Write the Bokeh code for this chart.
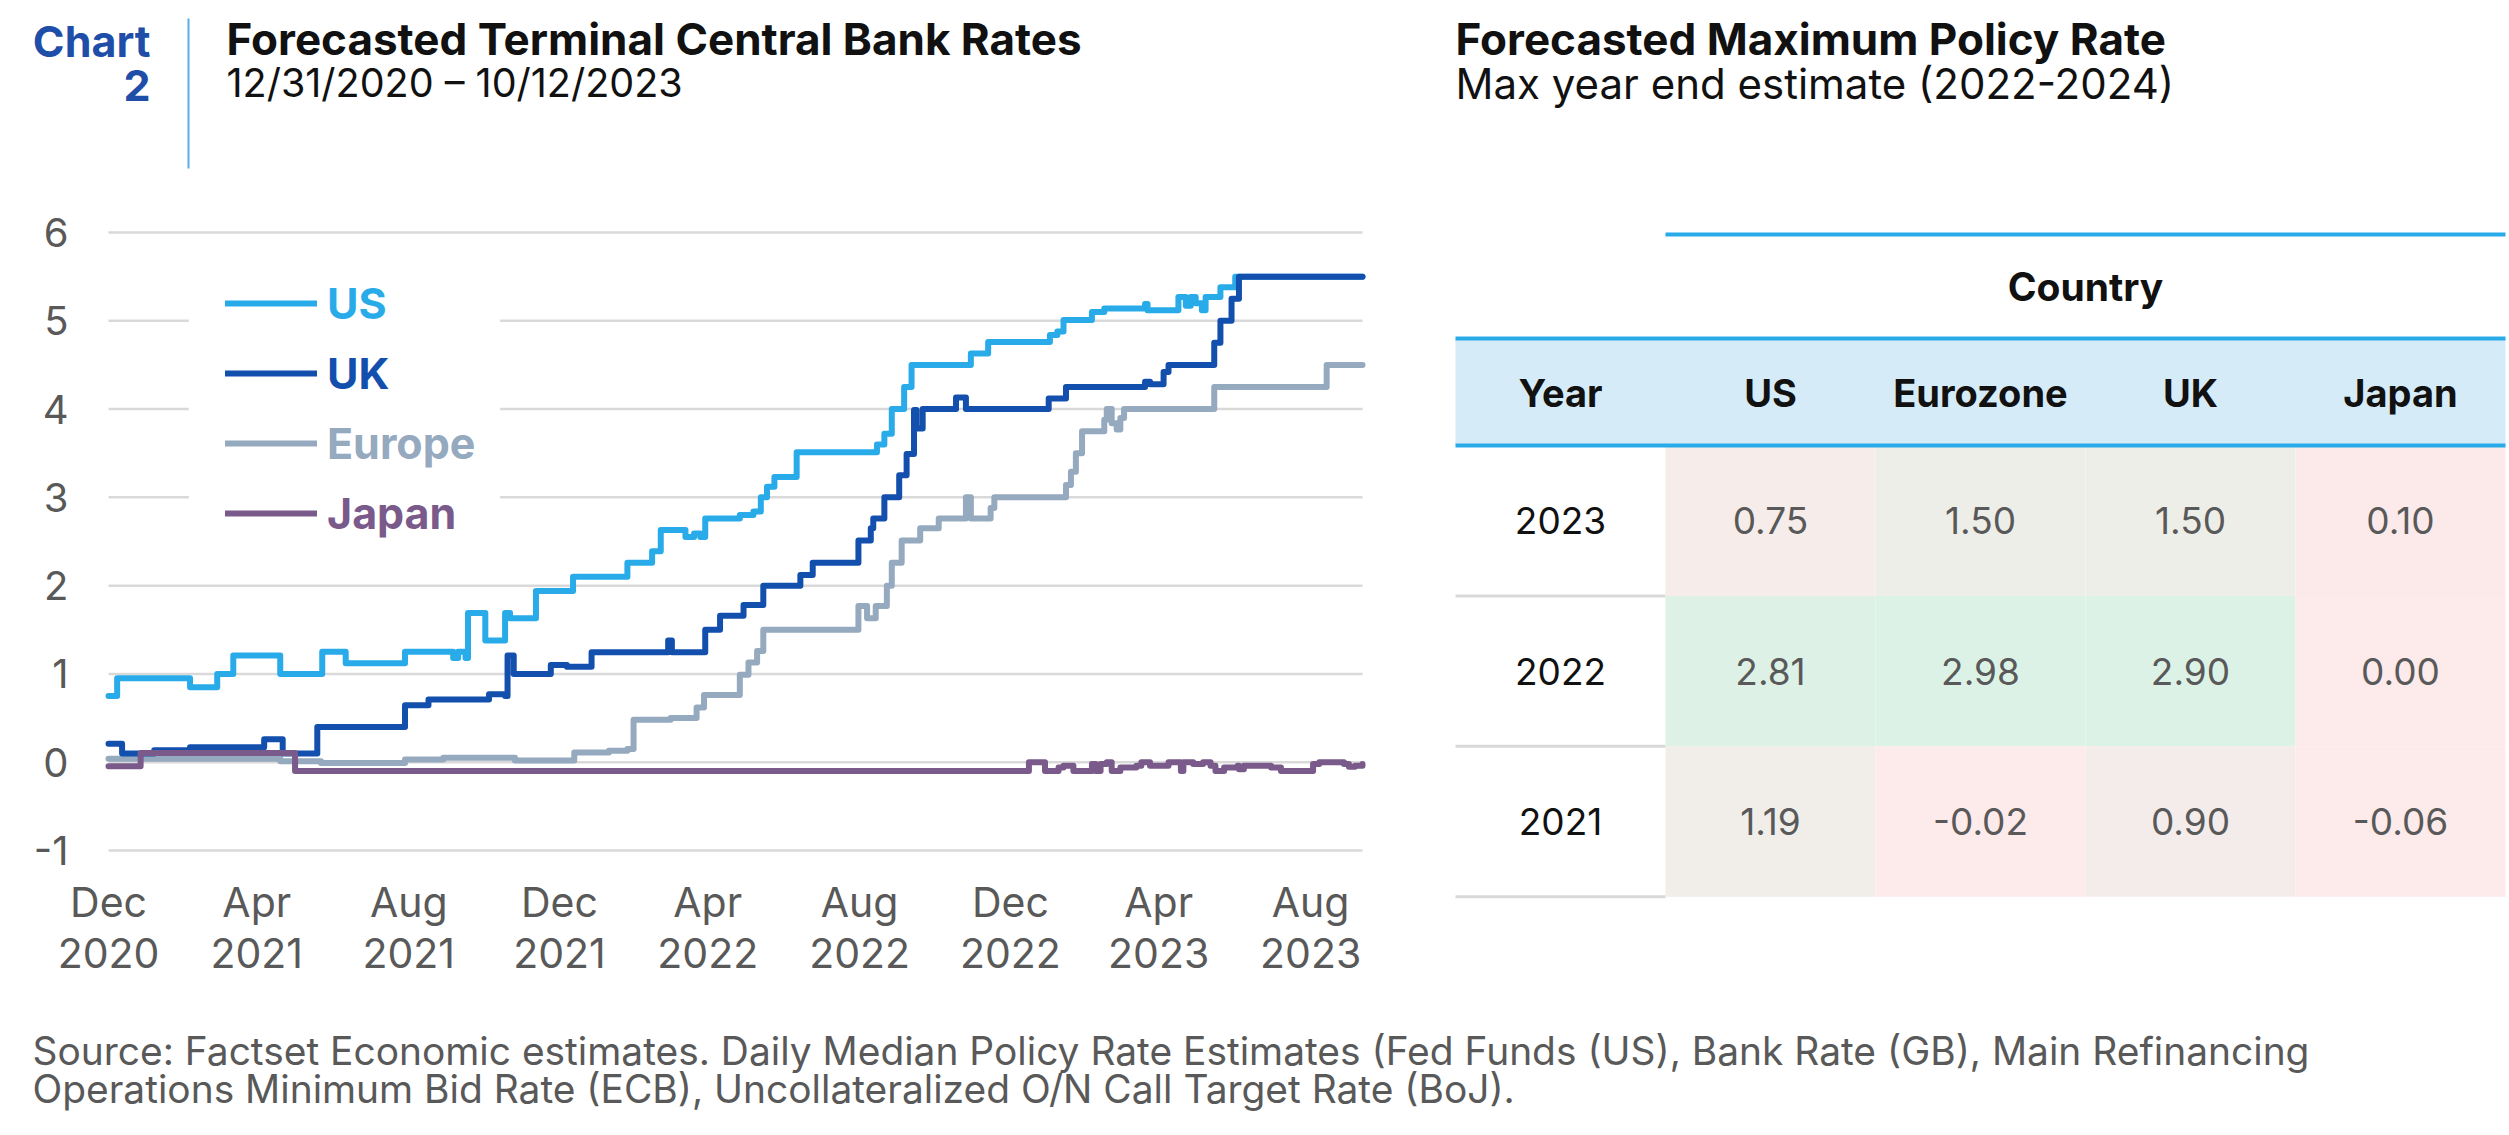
import numpy as np
import pandas as pd
from bokeh.plotting import figure
from bokeh.models import Range1d, Legend, LegendItem, BoxAnnotation
from bokeh.layouts import column, row
from bokeh.embed import file_html
from bokeh.resources import INLINE
from bokeh.core.properties import value

FONT = "Inter"

# ---------------- data ----------------
START = "2020-12-31"
END = "2023-10-12"
tick_dates = ["2020-12-31", "2021-04-30", "2021-08-31", "2021-12-31", "2022-04-30",
              "2022-08-31", "2022-12-31", "2023-04-30", "2023-08-31"]
tick_months = ["Dec", "Apr", "Aug", "Dec", "Apr", "Aug", "Dec", "Apr", "Aug"]
tick_years = ["2020", "2021", "2021", "2021", "2022", "2022", "2022", "2023", "2023"]

# days after START, forecast terminal rate (%)
us_day = [0, 7, 66, 88, 101, 139, 173, 192, 240, 279, 283, 289, 291, 305, 321, 325, 346, 376, 420, 440,
          447, 467, 474, 479, 483, 511, 522, 528, 533, 539, 557, 622, 628, 634, 644, 650, 698, 712, 762, 768,
          773, 796, 806, 839, 841, 866, 872, 876, 880, 885, 888, 900, 912, 1015]
us_val = [0.75, 0.95, 0.85, 1.00, 1.21, 1.00, 1.25, 1.12, 1.25, 1.18, 1.25, 1.18, 1.69, 1.38, 1.69, 1.63, 1.94, 2.10, 2.26, 2.39,
          2.63, 2.55, 2.59, 2.55, 2.76, 2.80, 2.84, 3.00, 3.12, 3.23, 3.51, 3.60, 3.72, 4.00, 4.25, 4.50, 4.63, 4.76, 4.84, 4.88,
          5.01, 5.10, 5.14, 5.19, 5.12, 5.27, 5.17, 5.27, 5.20, 5.12, 5.27, 5.38, 5.50, 5.50]

uk_day = [0, 11, 37, 66, 126, 141, 169, 240, 259, 308, 321, 323, 328, 358, 371, 391, 453, 456, 483, 495,
          514, 530, 560, 570, 607, 617, 619, 628, 640, 646, 652, 654, 659, 686, 694, 761, 775, 839, 843, 854,
          858, 895, 900, 909, 915, 1015]
uk_val = [0.21, 0.10, 0.135, 0.17, 0.26, 0.10, 0.40, 0.645, 0.71, 0.77, 0.75, 1.21, 1.00, 1.10, 1.08, 1.245, 1.38, 1.245, 1.50, 1.66,
          1.78, 2.00, 2.12, 2.26, 2.51, 2.65, 2.76, 3.00, 3.25, 3.49, 3.99, 3.78, 4.00, 4.13, 4.00, 4.12, 4.25, 4.31, 4.28, 4.42,
          4.50, 4.75, 5.00, 5.25, 5.50, 5.50]

eu_day = [0, 139, 172, 240, 271, 329, 377, 405, 420, 425, 455, 476, 482, 511, 518, 525, 530, 607, 614, 621,
          630, 634, 642, 657, 672, 694, 698, 714, 717, 775, 779, 783, 788, 806, 808, 812, 816, 819, 822, 895,
          986, 1015]
eu_val = [0.04, 0.01, -0.01, 0.03, 0.05, 0.02, 0.11, 0.13, 0.15, 0.48, 0.50, 0.62, 0.76, 0.99, 1.13, 1.26, 1.50, 1.77, 1.63, 1.77,
          2.00, 2.26, 2.51, 2.65, 2.76, 3.00, 2.76, 2.88, 3.00, 3.14, 3.29, 3.50, 3.75, 3.88, 4.00, 3.84, 3.77, 3.90, 4.00, 4.25,
          4.50, 4.50]

jp_day = [0, 26, 151, 745, 758, 769, 773, 781, 796, 799, 803, 808, 812, 819, 832, 836, 843, 858, 868, 870,
          878, 886, 892, 896, 903, 914, 915, 919, 941, 949, 975, 980, 1000, 1004, 1009, 1015]
jp_val = [-0.045, 0.105, -0.10, 0.00, -0.10, -0.06, -0.04, -0.10, -0.02, -0.10, -0.02, 0.00, -0.10, -0.06, -0.04, 0.00, -0.04, 0.00, -0.10, 0.00,
          -0.02, 0.00, -0.04, -0.10, -0.06, -0.04, -0.08, -0.04, -0.06, -0.10, -0.02, 0.00, -0.02, -0.05, -0.04, -0.02]

y_ticks = [-1, 0, 1, 2, 3, 4, 5, 6]

# table: forecasted maximum policy rate
table_years = ["2023", "2022", "2021"]
table_cols = ["US", "Eurozone", "UK", "Japan"]
us_max = [0.75, 2.81, 1.19]
ez_max = [1.50, 2.98, -0.02]
uk_max = [1.50, 2.90, 0.90]
jp_max = [0.10, 0.00, -0.06]

# ---------------- styles ----------------
US_C = "#29ABE9"
UK_C = "#1350AE"
EU_C = "#95A9BF"
JP_C = "#7A5A8B"
GRAY_TXT = "#595959"
DARK_TXT = "#111111"
TABLE_BLUE = "#29ABE9"
LW = 6


def days(d):
    return int((pd.Timestamp(d) - pd.Timestamp(START)).days)


def heat(v):
    anchors = [0.0, 1.5, 3.0]
    pts = np.array([[0xFD, 0xEA, 0xEB], [0xEE, 0xEE, 0xE9], [0xDC, 0xF2, 0xE6]], dtype=float)
    rgb = [int(round(np.interp(v, anchors, pts[:, k]))) for k in range(3)]
    return "#%02x%02x%02x" % tuple(rgb)


def blank(w, h, xr, yr):
    f = figure(width=w, height=h, x_range=xr, y_range=yr, output_backend="svg",
               toolbar_location=None, min_border=0, min_border_left=0, min_border_right=0,
               min_border_top=0, min_border_bottom=0,
               x_axis_location=None, y_axis_location=None)
    f.grid.visible = False
    f.outline_line_color = None
    return f


# ---------------- header ----------------
h = blank(2509, 188, Range1d(0, 2509), Range1d(188, 0))
h.text(x=[150, 150], y=[40, 85], text=["Chart", "2"], text_font=value(FONT), text_font_size="43px",
       text_font_style="bold", text_color="#1F4EA8", text_align="right", text_baseline="middle")
h.segment(x0=[188], y0=[18], x1=[188], y1=[168], line_color="#5AAEE6", line_width=2)
h.text(x=[226, 1455], y=[38, 38],
       text=["Forecasted Terminal Central Bank Rates", "Forecasted Maximum Policy Rate"],
       text_font=value(FONT), text_font_size="44px", text_font_style="bold",
       text_color=DARK_TXT, text_baseline="middle")
h.text(x=[226], y=[82], text=["12/31/2020 \u2013 10/12/2023"],
       text_font=value(FONT), text_font_size="39.5px", text_color=DARK_TXT, text_baseline="middle")
h.text(x=[1455], y=[82.5], text=["Max year end estimate (2022-2024)"],
       text_font=value(FONT), text_font_size="42px", text_color=DARK_TXT, text_baseline="middle")

# ---------------- line chart ----------------
PX = 618 / 7.0              # pixels per percentage point
PXD = 1254 / days(END)      # pixels per day
Y_LO = -1 - 150 / PX
Y_HI = 6 + 44 / PX
X_LO = -108 / PXD
X_HI = (1408 - 108) / PXD
p = blank(1408, 812, Range1d(X_LO, X_HI), Range1d(Y_LO, Y_HI))

# horizontal grid lines at the y ticks, spanning the date range
p.segment(x0=[0] * len(y_ticks), x1=[days(END)] * len(y_ticks), y0=y_ticks, y1=y_ticks,
          line_color="#D9D9D9", line_width=2.5)
# y tick labels
p.text(x=[-40 / PXD] * len(y_ticks), y=y_ticks, text=[str(v) for v in y_ticks],
       text_font=value(FONT), text_font_size="40px", text_color=GRAY_TXT,
       text_align="right", text_baseline="middle")
# x tick labels (month / year)
tick_days = [days(d) for d in tick_dates]
p.text(x=tick_days, y=[-1 - 51 / PX] * len(tick_days), text=tick_months,
       text_font=value(FONT), text_font_size="41px", text_color=GRAY_TXT,
       text_align="center", text_baseline="middle")
p.text(x=tick_days, y=[-1 - 102 / PX] * len(tick_days), text=tick_years,
       text_font=value(FONT), text_font_size="41px", text_color=GRAY_TXT,
       text_align="center", text_baseline="middle")

p.add_layout(BoxAnnotation(left=65, right=317, bottom=2.39, top=5.79, fill_color="white",
                           fill_alpha=1, line_alpha=0))

series = [("Europe", eu_day, eu_val, EU_C), ("US", us_day, us_val, US_C),
          ("UK", uk_day, uk_val, UK_C), ("Japan", jp_day, jp_val, JP_C)]
rends = {}
for name, d, v, c in series:
    rends[name] = p.step(x=d, y=v, mode="after", line_color=c, line_width=LW,
                         line_join="round", line_cap="round")

legend_order = [("US", US_C), ("UK", UK_C), ("Europe", EU_C), ("Japan", JP_C)]
for i, (name, c) in enumerate(legend_order):
    yloc = 652 - 70 * i
    leg = Legend(items=[LegendItem(label=name, renderers=[rends[name]])], location=(225, yloc),
                 padding=0, margin=0, spacing=0, glyph_width=92, glyph_height=90,
                 label_standoff=10, label_text_font=FONT, label_text_font_size="43px",
                 label_text_font_style="bold", label_text_color=c,
                 border_line_alpha=0, background_fill_alpha=0)
    p.add_layout(leg)

# ---------------- table ----------------
t = blank(1101, 812, Range1d(1408, 2509), Range1d(1000, 188))
X0, CW = 1455, 210
TOPLINE, HDR_TOP, HDR_BOT, ROW_H = 234, 338, 445, 150.4
X1 = X0 + 5 * CW

t.rect(x=[(X0 + X1) / 2], y=[(HDR_TOP + HDR_BOT) / 2], width=[X1 - X0], height=[HDR_BOT - HDR_TOP],
       fill_color="#D5EBF8", line_color=None)

cols_vals = [us_max, ez_max, uk_max, jp_max]
cx, cy, cc, ct = [], [], [], []
for j, vals in enumerate(cols_vals):
    for i, v in enumerate(vals):
        cx.append(X0 + (j + 1.5) * CW)
        cy.append(HDR_BOT + (i + 0.5) * ROW_H)
        cc.append(heat(v))
        ct.append("%.2f" % v)
t.rect(x=cx, y=cy, width=CW, height=ROW_H, fill_color=cc, line_color=None)

t.segment(x0=[X0 + CW, X0, X0], x1=[X1, X1, X1], y0=[TOPLINE, HDR_TOP, HDR_BOT],
          y1=[TOPLINE, HDR_TOP, HDR_BOT], line_color=TABLE_BLUE, line_width=4)
sep_y = [HDR_BOT + (i + 1) * ROW_H for i in range(len(table_years))]
t.segment(x0=[X0] * 3, x1=[X0 + CW] * 3, y0=sep_y, y1=sep_y, line_color="#D9D9D9", line_width=3)

t.text(x=[(X0 + CW + X1) / 2], y=[286], text=["Country"], text_font=value(FONT),
       text_font_size="39px", text_font_style="bold", text_color=DARK_TXT,
       text_align="center", text_baseline="middle")
t.text(x=[X0 + (j + 0.5) * CW for j in range(5)], y=[392] * 5, text=["Year"] + table_cols,
       text_font=value(FONT), text_font_size="38px", text_font_style="bold", text_color=DARK_TXT,
       text_align="center", text_baseline="middle")
t.text(x=[X0 + 0.5 * CW] * 3, y=[HDR_BOT + (i + 0.5) * ROW_H for i in range(3)], text=table_years,
       text_font=value(FONT), text_font_size="37px", text_color=DARK_TXT,
       text_align="center", text_baseline="middle")
t.text(x=cx, y=cy, text=ct, text_font=value(FONT), text_font_size="37px", text_color=GRAY_TXT,
       text_align="center", text_baseline="middle")

# ---------------- source ----------------
s = blank(2509, 135, Range1d(0, 2509), Range1d(1135, 1000))
s.text(x=[32, 32], y=[1050, 1088],
       text=["Source: Factset Economic estimates. Daily Median Policy Rate  Estimates (Fed Funds (US), Bank Rate (GB), Main Refinancing",
             "Operations Minimum Bid Rate (ECB), Uncollateralized O/N Call Target Rate (BoJ)."],
       text_font=value(FONT), text_font_size="38.9px", text_color=GRAY_TXT, text_baseline="middle")

layout = column(h, row(p, t), s)
open("out.html", "w").write(file_html(layout, INLINE))
